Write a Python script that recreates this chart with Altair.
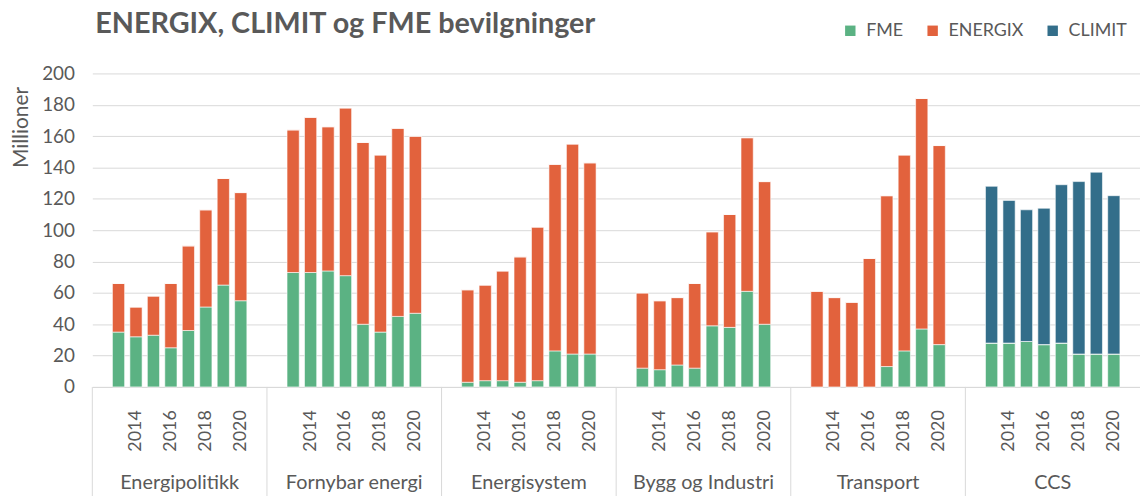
import altair as alt
import pandas as pd

groups = ["Energipolitikk", "Fornybar energi", "Energisystem", "Bygg og Industri", "Transport", "CCS"]
years = [2013, 2014, 2015, 2016, 2017, 2018, 2019, 2020]
label_years = [2014, 2016, 2018, 2020]
series = ["FME", "ENERGIX", "CLIMIT"]
colors = ["#5BB283", "#E2623D", "#336E8A"]

fme = {
    "Energipolitikk":   [35, 32, 33, 25, 36, 51, 65, 55],
    "Fornybar energi":  [73, 73, 74, 71, 40, 35, 45, 47],
    "Energisystem":     [3, 4, 4, 3, 4, 23, 21, 21],
    "Bygg og Industri": [12, 11, 14, 12, 39, 38, 61, 40],
    "Transport":        [0, 0, 0, 0, 13, 23, 37, 27],
    "CCS":              [28, 28, 29, 27, 28, 21, 21, 21],
}
energix = {
    "Energipolitikk":   [31, 19, 25, 41, 54, 62, 68, 69],
    "Fornybar energi":  [91, 99, 92, 107, 116, 113, 120, 113],
    "Energisystem":     [59, 61, 70, 80, 98, 119, 134, 122],
    "Bygg og Industri": [48, 44, 43, 54, 60, 72, 98, 91],
    "Transport":        [61, 57, 54, 82, 109, 125, 147, 127],
    "CCS":              [0, 0, 0, 0, 0, 0, 0, 0],
}
climit = {
    "Energipolitikk":   [0, 0, 0, 0, 0, 0, 0, 0],
    "Fornybar energi":  [0, 0, 0, 0, 0, 0, 0, 0],
    "Energisystem":     [0, 0, 0, 0, 0, 0, 0, 0],
    "Bygg og Industri": [0, 0, 0, 0, 0, 0, 0, 0],
    "Transport":        [0, 0, 0, 0, 0, 0, 0, 0],
    "CCS":              [100, 91, 84, 87, 101, 110, 116, 101],
}

# band domain: per group one empty slot, 8 years, one empty slot
domain = []
for g in groups:
    domain += [f"{g}|a"] + [f"{g}|{y}" for y in years] + [f"{g}|b"]

rows = []
for g in groups:
    for i, y in enumerate(years):
        for k, (s, src) in enumerate(zip(series, [fme, energix, climit])):
            rows.append({"key": f"{g}|{y}", "series": s, "ord": k, "value": src[g][i]})
df = pd.DataFrame(rows)

grp_df = pd.DataFrame({
    "group": groups,
    "first": [f"{g}|a" for g in groups],
    "mid": [f"{g}|2016" for g in groups],
})

TXT = "#595959"
GRID = "#D9D9D9"
FONT = "Lato"
W, H = 1056, 316
STEP = W / len(domain)

xscale = alt.Scale(domain=domain, paddingInner=0.3, paddingOuter=0.15)

bars = alt.Chart(df).mark_bar(stroke="white", strokeWidth=0.6).encode(
    x=alt.X("key:N", scale=xscale, sort=domain,
            axis=alt.Axis(title=None, labelAngle=-90,
                          values=[f"{g}|{y}" for g in groups for y in label_years],
                          labelExpr="split(datum.value, '|')[1]",
                          ticks=False, tickSize=0, labelPadding=23, domainColor=GRID,
                          domainWidth=1, labelFontSize=18, labelFont=FONT, labelColor=TXT,
                          grid=False)),
    y=alt.Y("value:Q", stack="zero",
            scale=alt.Scale(domain=[0, 200]),
            axis=alt.Axis(title="Millioner", values=list(range(0, 201, 20)), ticks=False,
                          tickSize=0, domain=False, labelPadding=18, labelFontSize=19,
                          labelFont=FONT, labelColor=TXT, titleFont=FONT, titleFontSize=21,
                          titleFontWeight="normal", titleColor=TXT, titlePadding=10,
                          titleY=54, titleAlign="center",
                          gridColor=GRID, gridWidth=1)),
    color=alt.Color("series:N",
                    scale=alt.Scale(domain=series, range=colors),
                    legend=alt.Legend(title=None, orient="none", legendX=755, legendY=-52,
                                      direction="horizontal", symbolType="square",
                                      symbolSize=110, symbolStrokeWidth=0,
                                      labelFont=FONT, labelFontSize=18, labelColor=TXT,
                                      columnPadding=20, labelOffset=7)),
    order=alt.Order("ord:Q"),
)

sep = alt.Chart(grp_df).mark_rule(color=GRID, strokeWidth=1, xOffset=-STEP / 2).encode(
    x=alt.X("first:N", scale=xscale, sort=domain),
    y=alt.value(H), y2=alt.value(H + 110),
)

glabels = alt.Chart(grp_df).mark_text(
    font=FONT, fontSize=20, color=TXT, dx=STEP / 2, baseline="middle", align="center"
).encode(
    x=alt.X("mid:N", scale=xscale, sort=domain),
    y=alt.value(H + 97),
    text="group:N",
)

chart = alt.layer(bars, sep, glabels).properties(
    width=W, height=H,
    title=alt.TitleParams("ENERGIX, CLIMIT og FME bevilgninger", anchor="start",
                          font=FONT, fontSize=29, fontWeight="bold", color=TXT,
                          offset=-17, dx=85),
    padding={"left": 2, "top": 0, "right": 0, "bottom": 0},
).configure_view(stroke=None).configure_axis(labelFont=FONT)

chart.save("out.html", embed_options={"renderer": "svg", "actions": False})
